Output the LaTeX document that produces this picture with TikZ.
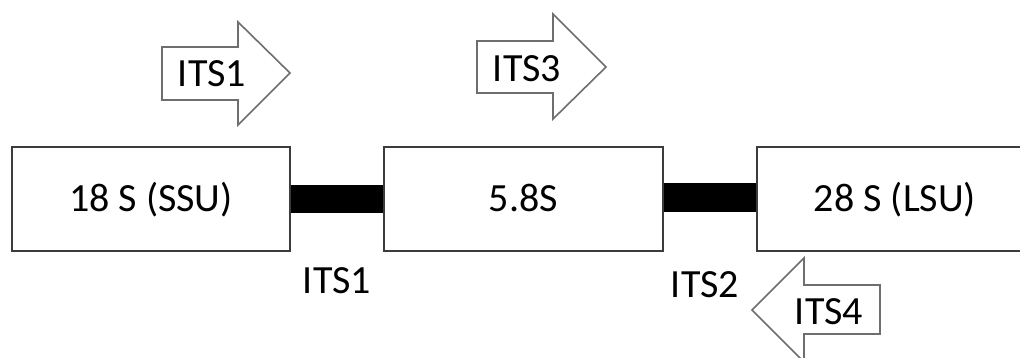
\documentclass[tikz,border=0pt]{standalone}
\usepackage{fontspec}
\setmainfont{Carlito}
\begin{document}
\begin{tikzpicture}[x=1pt,y=-1pt,
  region/.style={draw=boxgray,line width=1.8pt,fill=white,minimum height=104pt,inner sep=0pt,
    font=\fontsize{40}{48}\selectfont,text height=26pt,text depth=0pt},
  label/.style={font=\fontsize{40}{48}\selectfont,anchor=base,inner sep=0pt},
  spacer/.style={fill=black,draw=none},
  primer/.style={draw=arrowgray,line width=1.6pt,fill=white,line join=miter}]
\definecolor{boxgray}{HTML}{3C3C3C}
\definecolor{arrowgray}{HTML}{6E6E6E}
\clip (0,0) rectangle (1020,358);
\fill[white] (0,0) rectangle (1020,358);
% gene regions
\node[region,minimum width=278pt] (ssu) at (151,199) {18 S (SSU)};
\node[region,minimum width=279pt] (s58) at (523.5,199) {5.8S};
\node[region,minimum width=276pt] (lsu) at (895,199) {28 S (LSU)};
% spacers
\fill[spacer] (ssu.east |- 0,185) rectangle (s58.west |- 0,213);
\fill[spacer] (s58.east |- 0,183) rectangle (lsu.west |- 0,212);
% spacer labels
\node[label] (its1lab) at (337,293) {ITS1};
\node[label] (its2lab) at (705,297) {ITS2};
% primer arrows
\draw[primer] (162,47) -- (238,47) -- (238,22) -- (290,73) -- (238,125) -- (238,100) -- (162,100) -- cycle;
\node[label] (p1) at (212,87) {ITS1};
\draw[primer] (477,41) -- (553,41) -- (553,14) -- (606,67) -- (553,119) -- (553,93) -- (477,93) -- cycle;
\node[label] (p3) at (527,82) {ITS3};
\draw[primer] (752,310) -- (804,258) -- (804,285) -- (880,285) -- (880,334) -- (804,334) -- (804,362) -- cycle;
\node[label] (p4) at (829,324) {ITS4};
\end{tikzpicture}
\end{document}
